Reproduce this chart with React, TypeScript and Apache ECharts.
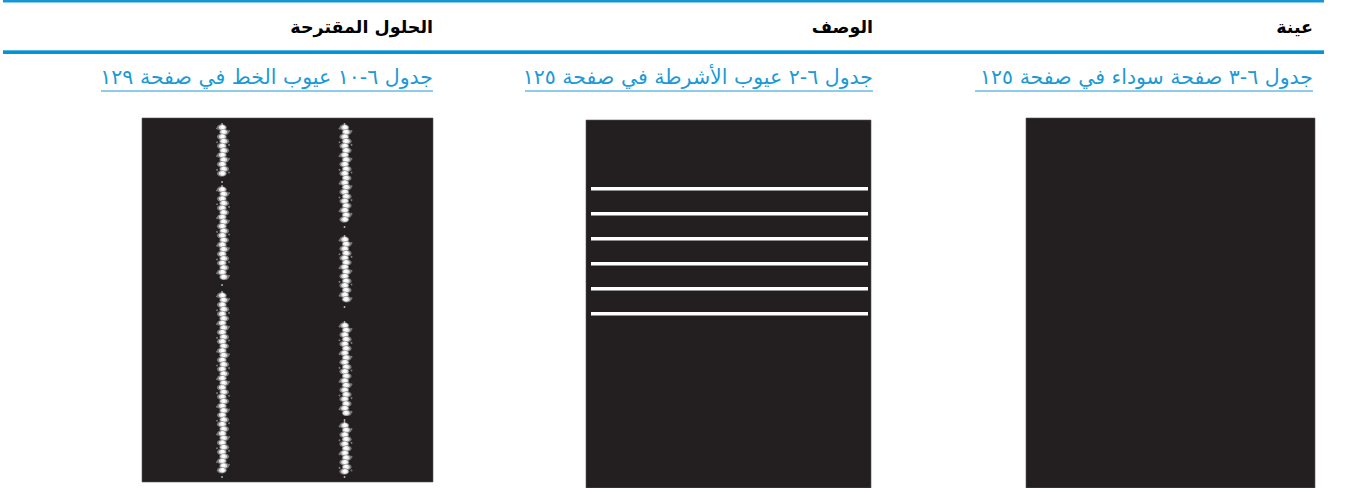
import React, { useEffect, useRef } from "react";
import * as echarts from "echarts";

// Table header texts (right-to-left columns)
const headerTexts = ["عينة", "الوصف", "الحلول المقترحة"];
const headerRightX = [1313, 873, 433];
const linkTexts = [
  "جدول ٦-٣ صفحة سوداء في صفحة ١٢٥",
  "جدول ٦-٢ عيوب الأشرطة في صفحة ١٢٥",
  "جدول ٦-١٠ عيوب الخط في صفحة ١٢٩",
];
const linkLeftX = [975, 525, 101];

// Sample page images [x0, y0, x1, y1]
const pageBoxes = [
  [1026, 118, 1315, 488],
  [586, 120, 871, 488],
  [142, 118, 433, 482],
];
// Banding defect white lines (y positions) on the middle sample
const bandY = [187, 212, 237, 262, 287, 312];
const bandX = [591, 868];
// Line-defect streak segments [x, y0, y1] on the left sample
const streakSegments = [
  [223, 125, 180],
  [223, 187, 283],
  [223, 293, 475],
  [345.5, 125, 225],
  [345.5, 237, 305],
  [345.5, 323, 418],
  [345.5, 423, 475],
];

const BLUE = "#0096d6";
const LINK = "#1b9ad6";
const PAGE = "#231f20";
const FONT = "'DejaVu Sans', 'Noto Sans', sans-serif";

function buildStreak(seg: number[]) {
  const [cx, y0, y1] = seg;
  const els: any[] = [];
  let i = 0;
  for (let y = y0 + 2.5; y <= y1 - 2.5; y += 4.6, i++) {
    const off = i % 2 === 0 ? -1.2 : 1.2;
    els.push({
      type: "ellipse",
      shape: { cx: cx + off, cy: y, rx: 4.9, ry: 3.2 },
      style: { fill: "#8f8f8f", opacity: 0.8 },
      silent: true,
    });
    els.push({
      type: "ellipse",
      shape: { cx: cx + off * 0.6, cy: y, rx: 3.5, ry: 2.5 },
      style: { fill: "#dcdcdc" },
      silent: true,
    });
    els.push({
      type: "circle",
      shape: { cx: cx + off * 0.4, cy: y - 0.3, r: 1.9 },
      style: { fill: "#ffffff" },
      silent: true,
    });
    if (i % 3 === 0) {
      els.push({
        type: "circle",
        shape: { cx: cx - 6, cy: y + 1, r: 0.9 },
        style: { fill: "#7a7a7a" },
        silent: true,
      });
    }
    if (i % 3 === 1) {
      els.push({
        type: "circle",
        shape: { cx: cx + 6, cy: y - 1, r: 0.9 },
        style: { fill: "#7a7a7a" },
        silent: true,
      });
    }
  }
  els.push({ type: "circle", shape: { cx: cx - 1, cy: y0 - 1, r: 0.9 }, style: { fill: "#bbbbbb" }, silent: true });
  els.push({ type: "circle", shape: { cx: cx - 1, cy: y1 + 2, r: 0.9 }, style: { fill: "#bbbbbb" }, silent: true });
  return els;
}

export default function App() {
  const ref = useRef<HTMLDivElement>(null);

  useEffect(() => {
    document.body.style.margin = "0";
    if (!ref.current) return;
    const chart = echarts.init(ref.current, undefined, { renderer: "svg" });

    const elements: any[] = [];
    elements.push({ type: "rect", shape: { x: 3, y: 0, width: 1321, height: 2.5 }, style: { fill: "#1796d4" }, silent: true });
    elements.push({ type: "rect", shape: { x: 3, y: 50, width: 1321, height: 4 }, style: { fill: BLUE }, silent: true });
    elements.push({ type: "rect", shape: { x: 3, y: 50, width: 1321, height: 1 }, style: { fill: "#55b4e2" }, silent: true });

    headerTexts.forEach((t, k) => {
      elements.push({
        type: "text",
        style: {
          text: t,
          x: headerRightX[k],
          y: 27,
          align: "right",
          verticalAlign: "middle",
          fill: "#000000",
          font: `bold 17.5px ${FONT}`,
        },
        silent: true,
      });
    });

    linkTexts.forEach((t, k) => {
      elements.push({
        type: "text",
        style: {
          text: t,
          x: headerRightX[k],
          y: 77,
          align: "right",
          verticalAlign: "middle",
          fill: LINK,
          font: `20.5px ${FONT}`,
        },
        silent: true,
      });
      elements.push({
        type: "line",
        shape: { x1: linkLeftX[k], y1: 91, x2: headerRightX[k], y2: 91 },
        style: { stroke: LINK, lineWidth: 1 },
        silent: true,
      });
    });

    pageBoxes.forEach((b) => {
      elements.push({
        type: "rect",
        shape: { x: b[0], y: b[1], width: b[2] - b[0], height: b[3] - b[1] },
        style: { fill: PAGE, stroke: "#5a5758", lineWidth: 0.6 },
        silent: true,
      });
    });

    bandY.forEach((y) => {
      elements.push({
        type: "rect",
        shape: { x: bandX[0], y: y, width: bandX[1] - bandX[0], height: 3.6 },
        style: { fill: "#ffffff" },
        silent: true,
      });
    });

    streakSegments.forEach((s) => {
      buildStreak(s).forEach((e) => elements.push(e));
    });

    chart.setOption({
      animation: false,
      backgroundColor: "#ffffff",
      graphic: { elements },
    });

    return () => chart.dispose();
  }, []);

  return <div ref={ref} style={{ width: 1345, height: 488 }} />;
}
